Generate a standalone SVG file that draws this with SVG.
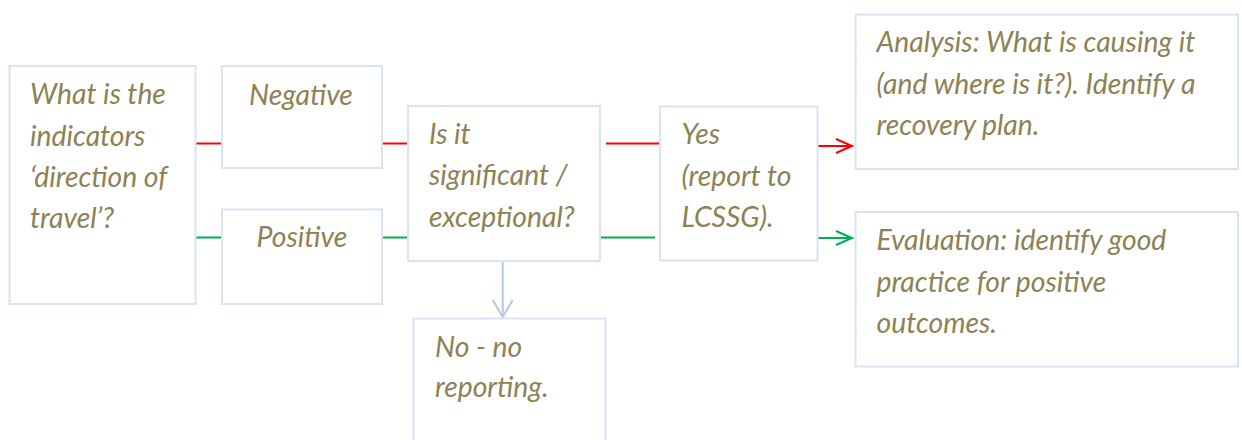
<svg xmlns="http://www.w3.org/2000/svg" width="1242" height="440" viewBox="0 0 1242 440">
<style>
.box{fill:#fff;stroke:#DAE3F3;stroke-width:2}
.t{font-family:"Lato","Open Sans","Liberation Sans",sans-serif;font-style:italic;font-size:28.3px;fill:#8C8254}
.red{stroke:#FF0000;stroke-width:2;fill:none}
.green{stroke:#00B050;stroke-width:2;fill:none}
.blue{stroke:#B4C7E7;stroke-width:2;fill:none}
</style>
<defs>
<marker id="ar" markerWidth="20" markerHeight="20" refX="17" refY="8" orient="auto" markerUnits="userSpaceOnUse"><path d="M1,1 L17,8 L1,15" class="red"/></marker>
<marker id="ag" markerWidth="20" markerHeight="20" refX="17" refY="8" orient="auto" markerUnits="userSpaceOnUse"><path d="M1,1 L17,8 L1,15" class="green"/></marker>
<marker id="ab" markerWidth="24" markerHeight="24" refX="18" refY="11" orient="auto" markerUnits="userSpaceOnUse"><path d="M1,1 L18,11 L1,21" class="blue"/></marker>
</defs>
<rect width="1242" height="440" fill="#fff"/>
<g id="connectors">
<path class="red" d="M195,143.5 H222"/>
<path class="red" d="M382,143.5 H408"/>
<path class="red" d="M606,143.5 H660"/>
<path class="red" d="M818,146 H852" marker-end="url(#ar)"/>
<path class="green" d="M195,237.5 H222"/>
<path class="green" d="M382,237.5 H408"/>
<path class="green" d="M600,237.5 H655"/>
<path class="green" d="M818,238 H852" marker-end="url(#ag)"/>
<path class="blue" d="M502.7,261 V317" marker-end="url(#ab)"/>
</g>
<g id="n1"><rect class="box" x="9.5" y="66" width="186" height="238"/>
<text class="t"><tspan x="30" y="104">What is the</tspan><tspan x="30" y="145.5">indicators</tspan><tspan x="30" y="187">‘direction of</tspan><tspan x="30" y="228">travel’?</tspan></text></g>
<g id="n2"><rect class="box" x="222" y="66" width="160" height="102"/>
<text class="t" x="249" y="105">Negative</text></g>
<g id="n3"><rect class="box" x="222" y="209.5" width="160" height="94.5"/>
<text class="t" x="256.5" y="247">Positive</text></g>
<g id="n4"><rect class="box" x="408" y="106" width="192" height="155"/>
<text class="t"><tspan x="429" y="143.5">Is it</tspan><tspan x="429" y="185">significant /</tspan><tspan x="429" y="226.7">exceptional?</tspan></text></g>
<g id="n5"><rect class="box" x="413.5" y="318.5" width="192" height="130"/>
<text class="t"><tspan x="435" y="356.7">No - no</tspan><tspan x="435" y="397">reporting.</tspan></text></g>
<g id="n6"><rect class="box" x="660" y="106.5" width="157.5" height="154"/>
<text class="t"><tspan x="681.5" y="143.5">Yes</tspan><tspan x="681.5" y="185.5">(report to</tspan><tspan x="681.5" y="226.7">LCSSG).</tspan></text></g>
<g id="n7"><rect class="box" x="855.5" y="14.5" width="382.5" height="154.5"/>
<text class="t"><tspan x="876.5" y="52.3">Analysis: What is causing it</tspan><tspan x="876.5" y="93.5">(and where is it?). Identify a</tspan><tspan x="876.5" y="134.5">recovery plan.</tspan></text></g>
<g id="n8"><rect class="box" x="855.5" y="212" width="382.5" height="154.5"/>
<text class="t"><tspan x="876.5" y="249.5">Evaluation: identify good</tspan><tspan x="876.5" y="291.5">practice for positive</tspan><tspan x="876.5" y="332.7">outcomes.</tspan></text></g>
</svg>
